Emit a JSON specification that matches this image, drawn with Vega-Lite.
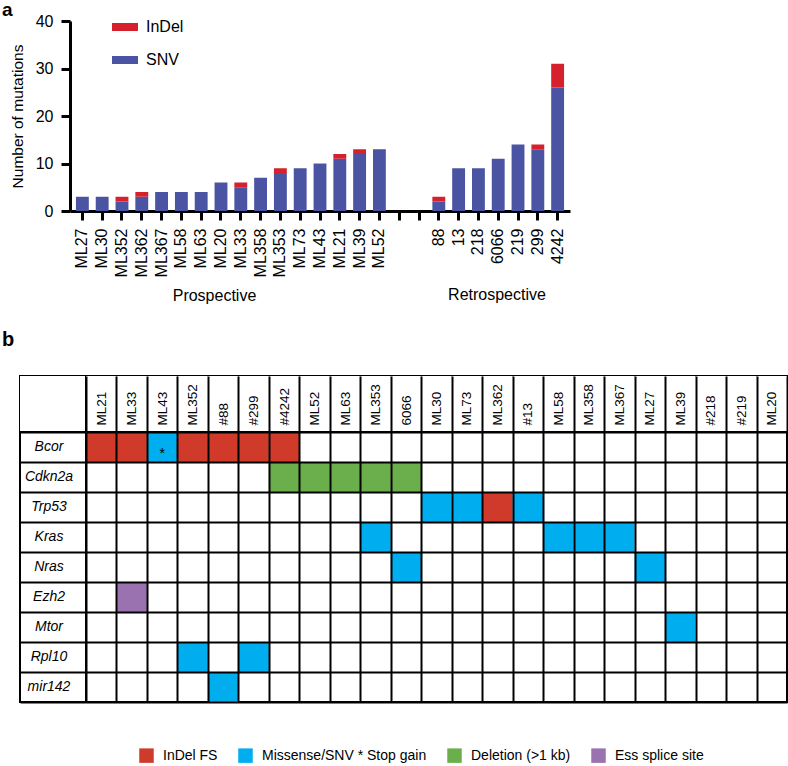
{
  "$schema": "https://vega.github.io/schema/vega-lite/v6.json",
  "padding": {"left": 2, "top": 1, "right": 0, "bottom": 2},
  "background": "white",
  "config": {
    "font": "Liberation Sans",
    "view": {"stroke": null},
    "axis": {"labelColor": "black", "titleColor": "black"},
    "legend": {"labelColor": "black"},
    "title": {"color": "black"}
  },
  "title": {"text": "a", "anchor": "start", "frame": "group", "fontSize": 19, "fontWeight": "bold", "dx": -18, "offset": -7},
  "resolve": {"scale": {"color": "independent", "x": "independent", "y": "independent"}, "legend": {"color": "independent"}},
  "spacing": 27,
  "vconcat": [
    {
      "width": 550,
      "height": 190,
      "title": {"text": "Retrospective", "orient": "bottom", "anchor": "middle", "frame": "group", "dx": 202, "offset": -16, "fontSize": 16, "fontWeight": "normal"},
      "data": {"values": [
        {"sample": "ML27", "kind": "SNV", "count": 3},
        {"sample": "ML30", "kind": "SNV", "count": 3},
        {"sample": "ML352", "kind": "SNV", "count": 2},
        {"sample": "ML352", "kind": "InDel", "count": 1},
        {"sample": "ML362", "kind": "SNV", "count": 3},
        {"sample": "ML362", "kind": "InDel", "count": 1},
        {"sample": "ML367", "kind": "SNV", "count": 4},
        {"sample": "ML58", "kind": "SNV", "count": 4},
        {"sample": "ML63", "kind": "SNV", "count": 4},
        {"sample": "ML20", "kind": "SNV", "count": 6},
        {"sample": "ML33", "kind": "SNV", "count": 5},
        {"sample": "ML33", "kind": "InDel", "count": 1},
        {"sample": "ML358", "kind": "SNV", "count": 7},
        {"sample": "ML353", "kind": "SNV", "count": 8},
        {"sample": "ML353", "kind": "InDel", "count": 1},
        {"sample": "ML73", "kind": "SNV", "count": 9},
        {"sample": "ML43", "kind": "SNV", "count": 10},
        {"sample": "ML21", "kind": "SNV", "count": 11},
        {"sample": "ML21", "kind": "InDel", "count": 1},
        {"sample": "ML39", "kind": "SNV", "count": 12},
        {"sample": "ML39", "kind": "InDel", "count": 1},
        {"sample": "ML52", "kind": "SNV", "count": 13},
        {"sample": "88", "kind": "SNV", "count": 2},
        {"sample": "88", "kind": "InDel", "count": 1},
        {"sample": "13", "kind": "SNV", "count": 9},
        {"sample": "218", "kind": "SNV", "count": 9},
        {"sample": "6066", "kind": "SNV", "count": 11},
        {"sample": "219", "kind": "SNV", "count": 14},
        {"sample": "299", "kind": "SNV", "count": 13},
        {"sample": "299", "kind": "InDel", "count": 1},
        {"sample": "4242", "kind": "SNV", "count": 26},
        {"sample": "4242", "kind": "InDel", "count": 5}
      ]},
      "mark": {"type": "bar"},
      "encoding": {
        "x": {
          "field": "sample", "type": "nominal",
          "scale": {
            "domain": ["ML27","ML30","ML352","ML362","ML367","ML58","ML63","ML20","ML33","ML358","ML353","ML73","ML43","ML21","ML39","ML52","_gap1","_gap2","88","13","218","6066","219","299","4242"],
            "range": [50, 550], "paddingInner": 0.35, "paddingOuter": 0.3
          },
          "axis": {
            "title": "Prospective", "titleX": 194, "titleY": 89, "titleBaseline": "alphabetic", "titleAlign": "center",
            "titleFontSize": 16, "titleFontWeight": "normal",
            "labelAngle": -90, "labelFontSize": 16, "labelPadding": 8,
            "labelExpr": "indexof(datum.label, '_gap') === 0 ? '' : datum.label",
            "labelOverlap": false, "labelBound": false, "labelFlush": false,
            "domainColor": "black", "domainWidth": 3, "tickColor": "black", "tickWidth": 3, "tickSize": 9
          }
        },
        "y": {
          "field": "count", "type": "quantitative", "stack": "zero",
          "scale": {"domain": [0, 40], "nice": false},
          "axis": {
            "values": [0, 10, 20, 30, 40], "offset": -50, "grid": false,
            "title": "Number of mutations", "titleFontSize": 15.5, "titleFontWeight": "normal", "titlePadding": 10,
            "labelFontSize": 16, "labelPadding": 8,
            "domainColor": "black", "domainWidth": 3, "tickColor": "black", "tickWidth": 3, "tickSize": 9
          }
        },
        "color": {
          "field": "kind", "type": "nominal",
          "scale": {"domain": ["InDel", "SNV"], "range": ["#d6202c", "#4a54a3"]},
          "legend": {
            "orient": "none", "legendX": 92, "legendY": -7, "title": null, "direction": "vertical",
            "symbolType": "M-1,-0.3077H1V0.3077H-1Z", "symbolSize": 676, "symbolStrokeWidth": 0, "symbolOpacity": 1,
            "labelFontSize": 16, "labelOffset": 8, "rowPadding": 12, "padding": 0
          }
        },
        "order": {"field": "kind", "sort": "descending"}
      }
    },
    {
      "title": {"text": "b", "anchor": "start", "frame": "group", "fontSize": 20, "fontWeight": "bold", "dx": -18, "offset": 25},
      "columns": 2,
      "spacing": 0,
      "bounds": "flush",
      "align": "each",
      "resolve": {"scale": {"x": "independent", "y": "independent"}},
      "concat": [
        {
          "width": 66, "height": 56,
          "view": {"stroke": "black", "strokeWidth": 2},
          "data": {"values": [{"cell": "corner"}]},
          "mark": {"type": "rect", "fill": "white"},
          "encoding": {}
        },
        {
          "width": 701, "height": 56,
          "view": {"stroke": "black", "strokeWidth": 2},
          "data": {"values": [
            {"sample": "ML21"}, {"sample": "ML33"}, {"sample": "ML43"}, {"sample": "ML352"}, {"sample": "#88"},
            {"sample": "#299"}, {"sample": "#4242"}, {"sample": "ML52"}, {"sample": "ML63"}, {"sample": "ML353"},
            {"sample": "6066"}, {"sample": "ML30"}, {"sample": "ML73"}, {"sample": "ML362"}, {"sample": "#13"},
            {"sample": "ML58"}, {"sample": "ML358"}, {"sample": "ML367"}, {"sample": "ML27"}, {"sample": "ML39"},
            {"sample": "#218"}, {"sample": "#219"}, {"sample": "ML20"}
          ]},
          "mark": {"type": "rect", "fill": "white"},
          "encoding": {
            "x": {
              "field": "sample", "type": "nominal",
              "scale": {
                "domain": ["ML21","ML33","ML43","ML352","#88","#299","#4242","ML52","ML63","ML353","6066","ML30","ML73","ML362","#13","ML58","ML358","ML367","ML27","ML39","#218","#219","ML20"],
                "paddingInner": 0, "paddingOuter": 0
              },
              "axis": {
                "orient": "bottom", "title": null, "domain": false, "ticks": false, "tickSize": 0,
                "labelAngle": -90, "labelAlign": "left", "labelBaseline": "middle", "labelPadding": -7, "labelFontSize": 13.5,
                "labelOverlap": false, "labelBound": false, "labelFlush": false,
                "grid": true, "gridColor": "black", "gridWidth": 2, "gridOpacity": 1, "tickBand": "extent", "zindex": 1
              }
            }
          }
        },
        {
          "width": 66, "height": 270,
          "view": {"stroke": "black", "strokeWidth": 2},
          "data": {"values": [
            {"gene": "Bcor"}, {"gene": "Cdkn2a"}, {"gene": "Trp53"}, {"gene": "Kras"}, {"gene": "Nras"},
            {"gene": "Ezh2"}, {"gene": "Mtor"}, {"gene": "Rpl10"}, {"gene": "mir142"}
          ]},
          "mark": {"type": "text", "fontSize": 14, "fontStyle": "italic", "color": "black", "dx": -4},
          "encoding": {
            "y": {
              "field": "gene", "type": "nominal",
              "scale": {"domain": ["Bcor","Cdkn2a","Trp53","Kras","Nras","Ezh2","Mtor","Rpl10","mir142"], "paddingInner": 0, "paddingOuter": 0},
              "axis": {
                "title": null, "domain": false, "ticks": false, "labels": false,
                "grid": true, "gridColor": "black", "gridWidth": 2, "gridOpacity": 1, "tickBand": "extent", "zindex": 1
              }
            },
            "text": {"field": "gene"}
          }
        },
        {
          "width": 701, "height": 270,
          "view": {"stroke": "black", "strokeWidth": 2},
          "data": {"values": [
            {"gene": "Bcor", "sample": "ML21", "mutation": "InDel FS"},
            {"gene": "Bcor", "sample": "ML33", "mutation": "InDel FS"},
            {"gene": "Bcor", "sample": "ML43", "mutation": "Missense/SNV", "stop": "*"},
            {"gene": "Bcor", "sample": "ML352", "mutation": "InDel FS"},
            {"gene": "Bcor", "sample": "#88", "mutation": "InDel FS"},
            {"gene": "Bcor", "sample": "#299", "mutation": "InDel FS"},
            {"gene": "Bcor", "sample": "#4242", "mutation": "InDel FS"},
            {"gene": "Cdkn2a", "sample": "#4242", "mutation": "Deletion (>1 kb)"},
            {"gene": "Cdkn2a", "sample": "ML52", "mutation": "Deletion (>1 kb)"},
            {"gene": "Cdkn2a", "sample": "ML63", "mutation": "Deletion (>1 kb)"},
            {"gene": "Cdkn2a", "sample": "ML353", "mutation": "Deletion (>1 kb)"},
            {"gene": "Cdkn2a", "sample": "6066", "mutation": "Deletion (>1 kb)"},
            {"gene": "Trp53", "sample": "ML30", "mutation": "Missense/SNV"},
            {"gene": "Trp53", "sample": "ML73", "mutation": "Missense/SNV"},
            {"gene": "Trp53", "sample": "ML362", "mutation": "InDel FS"},
            {"gene": "Trp53", "sample": "#13", "mutation": "Missense/SNV"},
            {"gene": "Kras", "sample": "ML353", "mutation": "Missense/SNV"},
            {"gene": "Kras", "sample": "ML58", "mutation": "Missense/SNV"},
            {"gene": "Kras", "sample": "ML358", "mutation": "Missense/SNV"},
            {"gene": "Kras", "sample": "ML367", "mutation": "Missense/SNV"},
            {"gene": "Nras", "sample": "6066", "mutation": "Missense/SNV"},
            {"gene": "Nras", "sample": "ML27", "mutation": "Missense/SNV"},
            {"gene": "Ezh2", "sample": "ML33", "mutation": "Ess splice site"},
            {"gene": "Mtor", "sample": "ML39", "mutation": "Missense/SNV"},
            {"gene": "Rpl10", "sample": "ML352", "mutation": "Missense/SNV"},
            {"gene": "Rpl10", "sample": "#299", "mutation": "Missense/SNV"},
            {"gene": "mir142", "sample": "#88", "mutation": "Missense/SNV"}
          ]},
          "encoding": {
            "x": {
              "field": "sample", "type": "nominal",
              "scale": {
                "domain": ["ML21","ML33","ML43","ML352","#88","#299","#4242","ML52","ML63","ML353","6066","ML30","ML73","ML362","#13","ML58","ML358","ML367","ML27","ML39","#218","#219","ML20"],
                "paddingInner": 0, "paddingOuter": 0
              },
              "axis": {
                "title": null, "domain": false, "ticks": false, "labels": false,
                "grid": true, "gridColor": "black", "gridWidth": 2, "gridOpacity": 1, "tickBand": "extent", "zindex": 1
              }
            },
            "y": {
              "field": "gene", "type": "nominal",
              "scale": {"domain": ["Bcor","Cdkn2a","Trp53","Kras","Nras","Ezh2","Mtor","Rpl10","mir142"], "paddingInner": 0, "paddingOuter": 0},
              "axis": {
                "title": null, "domain": false, "ticks": false, "labels": false,
                "grid": true, "gridColor": "black", "gridWidth": 2, "gridOpacity": 1, "tickBand": "extent", "zindex": 1
              }
            }
          },
          "layer": [
            {
              "mark": {"type": "rect"},
              "encoding": {
                "color": {
                  "field": "mutation", "type": "nominal",
                  "scale": {"domain": ["InDel FS", "Missense/SNV", "Deletion (>1 kb)", "Ess splice site"], "range": ["#d03a2a", "#00adee", "#6aaf4b", "#9a72b0"]},
                  "legend": {
                    "orient": "none", "legendX": 119, "legendY": 372, "direction": "horizontal", "title": null,
                    "symbolType": "square", "symbolSize": 210, "symbolStrokeWidth": 0, "symbolOpacity": 1,
                    "labelFontSize": 14, "labelOffset": 9, "columnPadding": 20, "padding": 0, "labelLimit": 400,
                    "labelExpr": "datum.label === 'Missense/SNV' ? 'Missense/SNV * Stop gain' : datum.label"
                  }
                }
              }
            },
            {
              "transform": [{"filter": "datum.stop"}],
              "mark": {"type": "text", "fontSize": 14, "baseline": "top", "color": "black"},
              "encoding": {"text": {"field": "stop"}}
            }
          ]
        }
      ]
    }
  ]
}
